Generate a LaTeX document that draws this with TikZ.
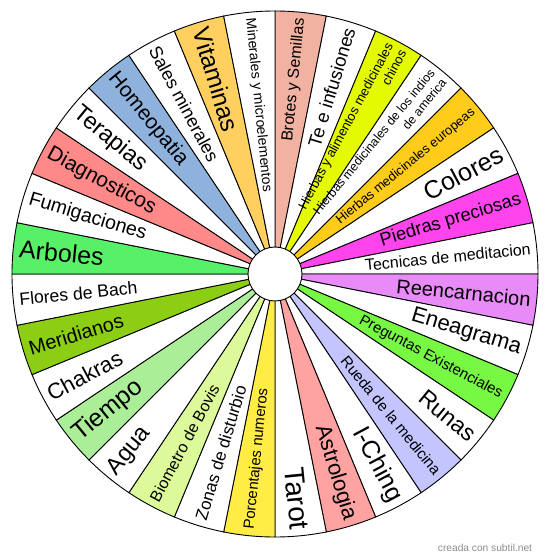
\documentclass[tikz,border=0pt]{standalone}
\usepackage{fontspec}
\setmainfont{Liberation Sans}
\definecolor{cbrotes}{HTML}{F2B2A2}
\definecolor{cchinos}{HTML}{E4FA00}
\definecolor{ceuropa}{HTML}{FFCC1A}
\definecolor{cpiedras}{HTML}{FF44EE}
\definecolor{creenc}{HTML}{E88AF8}
\definecolor{cpreg}{HTML}{77F944}
\definecolor{crueda}{HTML}{C4C4FF}
\definecolor{castro}{HTML}{FFA2A2}
\definecolor{cporc}{HTML}{FFEC44}
\definecolor{cbovis}{HTML}{DDFA9A}
\definecolor{ctiempo}{HTML}{ABEE98}
\definecolor{cmerid}{HTML}{8CCE14}
\definecolor{carboles}{HTML}{58F066}
\definecolor{cdiag}{HTML}{FF8888}
\definecolor{chomeo}{HTML}{8EB2DC}
\definecolor{cvitam}{HTML}{FFD060}
\begin{document}
\begin{tikzpicture}[sec/.style={draw=black,line width=0.9pt},
  rl/.style={anchor=east,inner sep=0pt,align=right},
  ll/.style={anchor=west,inner sep=0pt,align=left}]

\useasboundingbox (-275pt,-286pt) rectangle (275pt,274pt);

%sectors, clockwise from the top
\draw[sec,fill=cbrotes] (0,0) -- (90:263pt) arc (90:78.75:263pt) -- cycle;
\draw[sec,fill=white] (0,0) -- (78.75:263pt) arc (78.75:67.5:263pt) -- cycle;
\draw[sec,fill=cchinos] (0,0) -- (67.5:263pt) arc (67.5:56.25:263pt) -- cycle;
\draw[sec,fill=white] (0,0) -- (56.25:263pt) arc (56.25:45:263pt) -- cycle;
\draw[sec,fill=ceuropa] (0,0) -- (45:263pt) arc (45:33.75:263pt) -- cycle;
\draw[sec,fill=white] (0,0) -- (33.75:263pt) arc (33.75:22.5:263pt) -- cycle;
\draw[sec,fill=cpiedras] (0,0) -- (22.5:263pt) arc (22.5:11.25:263pt) -- cycle;
\draw[sec,fill=white] (0,0) -- (11.25:263pt) arc (11.25:0:263pt) -- cycle;
\draw[sec,fill=creenc] (0,0) -- (0:263pt) arc (0:-11.25:263pt) -- cycle;
\draw[sec,fill=white] (0,0) -- (-11.25:263pt) arc (-11.25:-22.5:263pt) -- cycle;
\draw[sec,fill=cpreg] (0,0) -- (-22.5:263pt) arc (-22.5:-33.75:263pt) -- cycle;
\draw[sec,fill=white] (0,0) -- (-33.75:263pt) arc (-33.75:-45:263pt) -- cycle;
\draw[sec,fill=crueda] (0,0) -- (-45:263pt) arc (-45:-56.25:263pt) -- cycle;
\draw[sec,fill=white] (0,0) -- (-56.25:263pt) arc (-56.25:-67.5:263pt) -- cycle;
\draw[sec,fill=castro] (0,0) -- (-67.5:263pt) arc (-67.5:-78.75:263pt) -- cycle;
\draw[sec,fill=white] (0,0) -- (-78.75:263pt) arc (-78.75:-90:263pt) -- cycle;
\draw[sec,fill=cporc] (0,0) -- (-90:263pt) arc (-90:-101.25:263pt) -- cycle;
\draw[sec,fill=white] (0,0) -- (-101.25:263pt) arc (-101.25:-112.5:263pt) -- cycle;
\draw[sec,fill=cbovis] (0,0) -- (-112.5:263pt) arc (-112.5:-123.75:263pt) -- cycle;
\draw[sec,fill=white] (0,0) -- (-123.75:263pt) arc (-123.75:-135:263pt) -- cycle;
\draw[sec,fill=ctiempo] (0,0) -- (-135:263pt) arc (-135:-146.25:263pt) -- cycle;
\draw[sec,fill=white] (0,0) -- (-146.25:263pt) arc (-146.25:-157.5:263pt) -- cycle;
\draw[sec,fill=cmerid] (0,0) -- (-157.5:263pt) arc (-157.5:-168.75:263pt) -- cycle;
\draw[sec,fill=white] (0,0) -- (-168.75:263pt) arc (-168.75:-180:263pt) -- cycle;
\draw[sec,fill=carboles] (0,0) -- (180:263pt) arc (180:168.75:263pt) -- cycle;
\draw[sec,fill=white] (0,0) -- (168.75:263pt) arc (168.75:157.5:263pt) -- cycle;
\draw[sec,fill=cdiag] (0,0) -- (157.5:263pt) arc (157.5:146.25:263pt) -- cycle;
\draw[sec,fill=white] (0,0) -- (146.25:263pt) arc (146.25:135:263pt) -- cycle;
\draw[sec,fill=chomeo] (0,0) -- (135:263pt) arc (135:123.75:263pt) -- cycle;
\draw[sec,fill=white] (0,0) -- (123.75:263pt) arc (123.75:112.5:263pt) -- cycle;
\draw[sec,fill=cvitam] (0,0) -- (112.5:263pt) arc (112.5:101.25:263pt) -- cycle;
\draw[sec,fill=white] (0,0) -- (101.25:263pt) arc (101.25:90:263pt) -- cycle;

%labels, right half
\node[rl,rotate=84.375,font=\fontsize{16}{19}\selectfont] (brotes) at (84.375:257pt) {Brotes y Semillas};
\node[rl,rotate=73.125,font=\fontsize{18.5}{22}\selectfont] (te) at (73.125:257pt) {Te e infusiones};
\node[rl,rotate=61.875,font=\fontsize{13}{15}\selectfont] (chinos) at (61.875:257pt) {Hierbas y alimentos medicinales\\chinos};
\node[rl,rotate=50.625,font=\fontsize{12.4}{15}\selectfont] (indios) at (50.625:257pt) {Hierbas medicinales de los indios\\de america};
\node[rl,rotate=39.375,font=\fontsize{13}{15}\selectfont] (europa) at (39.375:257pt) {Hierbas medicinales europeas};
\node[rl,rotate=28.125,font=\fontsize{25}{30}\selectfont] (colores) at (28.125:257pt) {Colores};
\node[rl,rotate=16.875,font=\fontsize{18.4}{22}\selectfont] (piedras) at (16.875:257pt) {Piedras preciosas};
\node[rl,rotate=5.625,font=\fontsize{16}{19}\selectfont] (medit) at (5.625:257pt) {Tecnicas de meditacion};
\node[rl,rotate=-5.625,font=\fontsize{20}{24}\selectfont] (reenc) at (-5.625:257pt) {Reencarnacion};
\node[rl,rotate=-16.875,font=\fontsize{22}{26}\selectfont] (eneag) at (-16.875:257pt) {Eneagrama};
\node[rl,rotate=-28.125,font=\fontsize{15}{18}\selectfont] (preg) at (-28.125:257pt) {Preguntas Existenciales};
\node[rl,rotate=-39.375,font=\fontsize{23}{27}\selectfont] (runas) at (-39.375:257pt) {Runas};
\node[rl,rotate=-50.625,font=\fontsize{15.3}{18}\selectfont] (rueda) at (-50.625:257pt) {Rueda de la medicina};
\node[rl,rotate=-61.875,font=\fontsize{25}{30}\selectfont] (iching) at (-61.875:257pt) {I-Ching};
\node[rl,rotate=-73.125,font=\fontsize{22}{26}\selectfont] (astro) at (-73.125:257pt) {Astrologia};
\node[rl,rotate=-84.375,font=\fontsize{28}{33}\selectfont] (tarot) at (-84.375:257pt) {Tarot};

%labels, left half
\node[ll,rotate=84.375,font=\fontsize{15}{18}\selectfont] (porc) at (-95.625:257pt) {Porcentajes numeros};
\node[ll,rotate=73.125,font=\fontsize{17}{20}\selectfont] (zonas) at (-106.875:257pt) {Zonas de disturbio};
\node[ll,rotate=61.875,font=\fontsize{16}{19}\selectfont] (bovis) at (-118.125:257pt) {Biometro de Bovis};
\node[ll,rotate=50.625,font=\fontsize{23.5}{28}\selectfont] (agua) at (-129.375:257pt) {Agua};
\node[ll,rotate=39.375,font=\fontsize{25}{30}\selectfont] (tiempo) at (-140.625:257pt) {Tiempo};
\node[ll,rotate=28.125,font=\fontsize{22}{26}\selectfont] (chakras) at (-151.875:257pt) {Chakras};
\node[ll,rotate=16.875,font=\fontsize{20}{24}\selectfont] (merid) at (-163.125:257pt) {Meridianos};
\node[ll,rotate=5.625,font=\fontsize{17.6}{21}\selectfont] (bach) at (-174.375:257pt) {Flores de Bach};
\node[ll,rotate=-5.625,font=\fontsize{25}{30}\selectfont] (arboles) at (174.375:257pt) {Arboles};
\node[ll,rotate=-16.875,font=\fontsize{19.6}{23}\selectfont] (fumig) at (163.125:257pt) {Fumigaciones};
\node[ll,rotate=-28.125,font=\fontsize{21}{25}\selectfont] (diag) at (151.875:257pt) {Diagnosticos};
\node[ll,rotate=-39.375,font=\fontsize{23.4}{28}\selectfont] (terap) at (140.625:257pt) {Terapias};
\node[ll,rotate=-50.625,font=\fontsize{21}{25}\selectfont] (homeo) at (129.375:257pt) {Homeopatia};
\node[ll,rotate=-61.875,font=\fontsize{18}{21}\selectfont] (sales) at (118.125:257pt) {Sales minerales};
\node[ll,rotate=-73.125,font=\fontsize{24.6}{29}\selectfont] (vitam) at (106.875:257pt) {Vitaminas};
\node[ll,rotate=-84.375,font=\fontsize{14}{17}\selectfont] (miner) at (95.625:257pt) {Minerales y microelementos};

%hub
\node[circle,draw=black,line width=0.9pt,fill=white,inner sep=0pt,minimum size=54pt] (hub) at (0,0) {};

\node[text=black!45,font=\fontsize{10.2}{12}\selectfont] (credit) at (210pt,-274pt) {creada con subtil.net};
\end{tikzpicture}
\end{document}
